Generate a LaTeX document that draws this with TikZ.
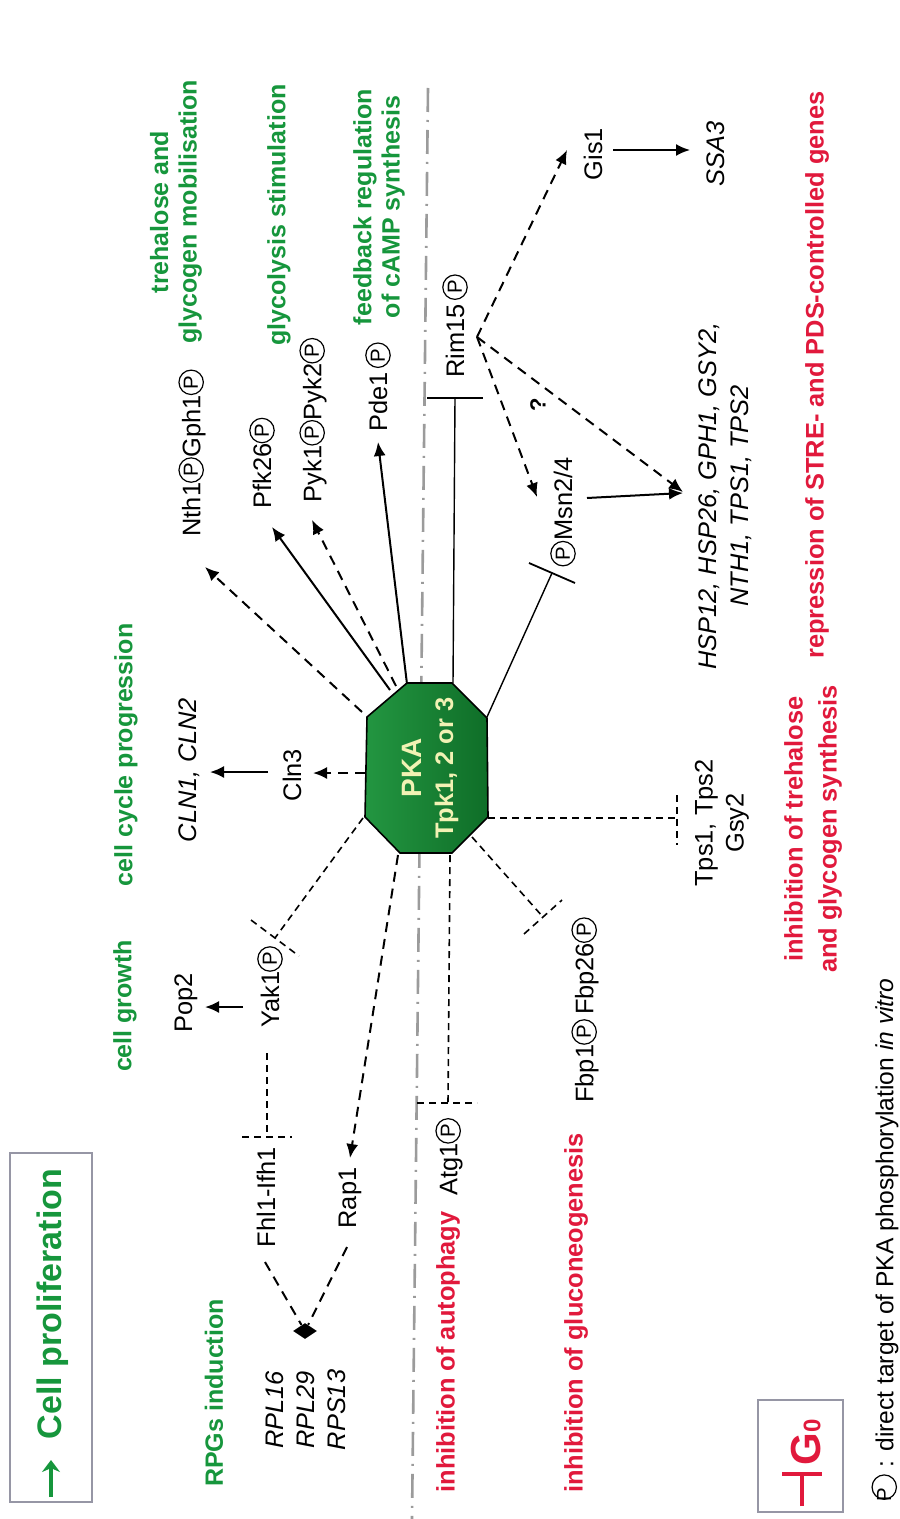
\documentclass[tikz,border=0pt]{standalone}
\usepackage{fontspec}
\setmainfont{Liberation Sans}
\usetikzlibrary{arrows.meta,shapes.geometric}
\definecolor{pgreen}{RGB}{22,150,60}
\definecolor{pred}{RGB}{225,25,60}
\definecolor{pkalight}{RGB}{35,150,65}
\definecolor{pkadark}{RGB}{15,110,40}
\definecolor{pkatext}{RGB}{242,242,180}
\definecolor{sepgray}{RGB}{155,155,155}
\definecolor{boxgray}{RGB}{150,150,165}
\newcommand{\cP}{\tikz[reset cm, baseline=-4.6pt, x=1pt, y=1pt]{\draw[black, line width=0.6pt, solid] (0,0) circle (6.1pt); \node[inner sep=0pt, text=black, font=\fontsize{10.2}{10.2}\selectfont] (cpn) at (0,0.1) {P};}}
\begin{document}
\begin{tikzpicture}[x=0.5pt,y=-0.5pt,
  txt/.style={rotate=90, inner sep=0pt, font=\fontsize{12.7}{15.5}\selectfont, align=center},
  gtxt/.style={rotate=90, inner sep=0pt, text=pgreen, font=\bfseries\fontsize{12.5}{14.2}\selectfont, align=center},
  rtxt/.style={rotate=90, inner sep=0pt, text=pred, font=\bfseries\fontsize{12.7}{17}\selectfont, align=center},
  sarr/.style={line width=1pt, -{Latex[length=7pt,width=6pt]}},
  darr/.style={sarr, dash pattern=on 5pt off 3.5pt},
  dinh/.style={line width=0.8pt, dash pattern=on 3.5pt off 2.5pt},
  sinh/.style={line width=0.7pt},
]
\fill[white] (0,0) rectangle (899,1519);
\useasboundingbox (0,0) rectangle (899,1519);

% separator
\coordinate (septop) at (428,88);
\coordinate (sepbot) at (412,1519);
\draw[sepgray, line width=1.3pt, dash pattern=on 12pt off 4pt on 1pt off 4pt] (septop) -- (sepbot);

% legend box
\draw[boxgray, line width=0.8pt] (10,1153) rectangle (92,1502);
\coordinate (cpa) at (51,1497);
\coordinate (cpb) at (51,1460);
\draw[pgreen, line width=1.7pt, -{Stealth[length=6pt,width=9pt]}] (cpa) -- (cpb);
\node[rotate=90, inner sep=0pt, text=pgreen, font=\bfseries\fontsize{17}{20}\selectfont] (cellprol) at (53,1304) {Cell proliferation};

% PKA
\coordinate (k1) at (407,683);
\coordinate (k2) at (452,683);
\coordinate (k3) at (487,718);
\coordinate (k4) at (488,817);
\coordinate (k5) at (452,853);
\coordinate (k6) at (400,853);
\coordinate (k7) at (365,817);
\coordinate (k8) at (367,717);
\shade[left color=pkalight, right color=pkadark] (k1)--(k2)--(k3)--(k4)--(k5)--(k6)--(k7)--(k8)--cycle;
\draw[line width=0.8pt] (k1)--(k2)--(k3)--(k4)--(k5)--(k6)--(k7)--(k8)--cycle;
\node[rotate=90, inner sep=0pt, text=pkatext, align=center, font=\bfseries\fontsize{12.7}{16}\selectfont] (pka) at (430,768) {{\fontsize{14}{16}\selectfont PKA}\\Tpk1, 2 or 3};

% green labels
\node[gtxt] (rpgs) at (214,1393) {RPGs induction};
\node[gtxt] (cgrowth) at (125,1006) {cell growth};
\node[gtxt] (ccycle) at (126,755) {cell cycle progression};
\node[gtxt] (treh) at (176,212) {trehalose and\\glycogen mobilisation};
\node[gtxt] (glyco) at (279,215) {glycolysis stimulation};
\node[gtxt] (feedb) at (379,207) {feedback regulation\\of cAMP synthesis};

% red labels
\node[rtxt] (repr) at (817,375) {repression of STRE- and PDS-controlled genes};
\node[rtxt] (autoph) at (448,1352) {inhibition of autophagy};
\node[rtxt] (gluco) at (576,1313) {inhibition of gluconeogenesis};
\node[rtxt] (trehsyn) at (813,829) {inhibition of trehalose\\and glycogen synthesis};

% black labels
\node[txt] (nth) at (192,453) {Nth1\cP Gph1\cP};
\node[txt] (pfk) at (262,463) {Pfk26\cP};
\node[txt] (pyk) at (313,420) {Pyk1\cP Pyk2\cP};
\node[txt] (pde) at (378,387) {Pde1\,\cP};
\node[txt] (rim) at (455,326) {Rim15\,\cP};
\node[txt] (gis) at (593,154) {Gis1};
\node[txt, font=\itshape\fontsize{12.7}{15.5}\selectfont] (ssa) at (716,154) {SSA3};
\node[txt] (msn) at (563,512) {\cP Msn2/4};
\node[rotate=90, inner sep=0pt, font=\bfseries\fontsize{11}{13}\selectfont] (qm) at (538,405) {?};
\node[txt, font=\itshape\fontsize{12.7}{16}\selectfont] (genes) at (725,496) {HSP12, HSP26, GPH1, GSY2,\\NTH1, TPS1, TPS2};
\node[txt] (cln3) at (292,775) {Cln3};
\node[txt, font=\itshape\fontsize{12.7}{15.5}\selectfont] (cln12) at (189,770) {CLN1, CLN2};
\node[txt] (pop2) at (186,1003) {Pop2};
\node[txt] (yak) at (270,987) {Yak1\cP};
\node[txt] (fhl) at (266,1197) {Fhl1-Ifh1};
\node[txt] (rap) at (350,1198) {Rap1};
\node[txt, font=\itshape\fontsize{12.7}{15.5}\selectfont] (rpl) at (306,1410) {RPL16\\RPL29\\RPS13};
\node[txt] (atg) at (449,1157) {Atg1\cP};
\node[txt] (fbp) at (585,1010) {Fbp1\cP\,Fbp26\cP};
\node[txt, font=\fontsize{12.7}{15.5}\selectfont] (tps) at (722,823) {Tps1, Tps2\\Gsy2};
\node[txt, anchor=east, font=\fontsize{12.3}{15}\selectfont] (footer) at (885,978) {\cP\ : direct target of PKA phosphorylation \textit{in vitro}};

% G0 legend
\draw[boxgray, line width=0.8pt] (758,1400) rectangle (843,1512);
\coordinate (g0a) at (802,1506);
\coordinate (g0b) at (802,1474);
\coordinate (g0c) at (782,1474);
\coordinate (g0d) at (822,1474);
\draw[pred, line width=2.4pt] (g0a) -- (g0b);
\draw[pred, line width=2.4pt] (g0c) -- (g0d);
\node[rotate=90, inner sep=0pt, anchor=west, text=pred, font=\bfseries\fontsize{21}{24}\selectfont] (g0) at (806,1466) {G{\fontsize{12}{12}\selectfont 0}};

% connectors from PKA upwards
\coordinate (nthtip) at (205,567);
\coordinate (pfktip) at (272,527);
\coordinate (pyktip) at (312,520);
\coordinate (pdetip) at (378,442);
\coordinate (pkanth) at (362,712);
\coordinate (pkapfk) at (390,690);
\coordinate (pkapyk) at (396,686);
\coordinate (pkapde) at (407,684);
\draw[darr] (pkanth) -- (nthtip);
\draw[sarr] (pkapfk) -- (pfktip);
\draw[darr] (pkapyk) -- (pyktip);
\draw[sarr] (pkapde) -- (pdetip);

% Rim15
\coordinate (pkarim) at (453,683);
\coordinate (rimbar) at (455,398);
\coordinate (rimbarl) at (427,398);
\coordinate (rimbarr) at (483,398);
\draw[sinh] (pkarim) -- (rimbar);
\draw[line width=1pt] (rimbarl) -- (rimbarr);
\coordinate (rimpt) at (477,337);
\coordinate (gistip) at (567,150);
\coordinate (msntip) at (537,497);
\coordinate (genestip) at (683,492);
\draw[darr] (rimpt) -- (gistip);
\draw[darr] (rimpt) -- (msntip);
\draw[darr] (rimpt) -- (genestip);
\coordinate (gisout) at (613,150);
\coordinate (ssatip) at (690,150);
\draw[sarr] (gisout) -- (ssatip);
\coordinate (msnout) at (587,498);
\coordinate (genestip2) at (683,493);
\draw[sarr] (msnout) -- (genestip2);

% Msn2/4 inhibition
\coordinate (pkamsn) at (487,717);
\coordinate (msnbar) at (552,573);
\coordinate (msnbara) at (529,563);
\coordinate (msnbarb) at (575,583);
\draw[sinh] (pkamsn) -- (msnbar);
\draw[line width=0.9pt] (msnbara) -- (msnbarb);

% Cln3
\coordinate (pkacln) at (365,773);
\coordinate (clntip) at (313,773);
\draw[darr] (pkacln) -- (clntip);
\coordinate (clnout) at (268,772);
\coordinate (cln12tip) at (210,772);
\draw[sarr] (clnout) -- (cln12tip);

% Yak1
\coordinate (pkayak) at (363,818);
\coordinate (yakbar) at (275,938);
\coordinate (yakbara) at (251,920);
\coordinate (yakbarb) at (299,956);
\draw[dinh] (pkayak) -- (yakbar);
\draw[dinh] (yakbara) -- (yakbarb);
\coordinate (yakout) at (243,1007);
\coordinate (poptip) at (205,1007);
\draw[sarr] (yakout) -- (poptip);
\coordinate (yakdown) at (267,1053);
\coordinate (fhlbar) at (267,1137);
\coordinate (fhlbara) at (242,1137);
\coordinate (fhlbarb) at (292,1137);
\draw[dinh] (yakdown) -- (fhlbar);
\draw[dinh] (fhlbara) -- (fhlbarb);

% Rap1
\coordinate (pkarap) at (398,855);
\coordinate (raptip) at (350,1158);
\draw[darr] (pkarap) -- (raptip);

% RPG diamond
\node[diamond, fill=black, inner sep=0pt, minimum width=12pt, minimum height=8pt] (dia) at (305,1331) {};
\coordinate (fhlout) at (265,1262);
\coordinate (rapout) at (347,1247);
\draw[line width=1pt, dash pattern=on 5pt off 3.5pt] (fhlout) -- (dia);
\draw[line width=1pt, dash pattern=on 5pt off 3.5pt] (rapout) -- (dia);

% Atg1
\coordinate (pkaatg) at (450,855);
\coordinate (atgbar) at (448,1103);
\coordinate (atgbara) at (417,1103);
\coordinate (atgbarb) at (477,1103);
\draw[dinh] (pkaatg) -- (atgbar);
\draw[dinh] (atgbara) -- (atgbarb);

% Fbp
\coordinate (pkafbp) at (472,837);
\coordinate (fbpbar) at (543,917);
\coordinate (fbpbara) at (524,934);
\coordinate (fbpbarb) at (562,900);
\draw[dinh] (pkafbp) -- (fbpbar);
\draw[dinh] (fbpbara) -- (fbpbarb);

% Tps
\coordinate (pkatps) at (488,818);
\coordinate (tpsbar) at (677,818);
\coordinate (tpsbara) at (677,795);
\coordinate (tpsbarb) at (677,845);
\draw[dinh] (pkatps) -- (tpsbar);
\draw[dinh] (tpsbara) -- (tpsbarb);
\end{tikzpicture}
\end{document}
